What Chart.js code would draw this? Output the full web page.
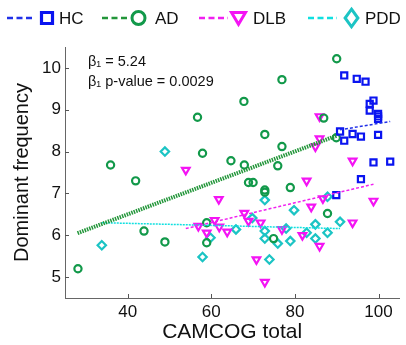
<!DOCTYPE html>
<html>
<head>
<meta charset="utf-8">
<script src="https://cdn.jsdelivr.net/npm/chart.js@4/dist/chart.umd.min.js"></script>
<style>
html,body{margin:0;padding:0;background:#fff;}
#wrap{width:406px;height:345px;position:relative;}
</style>
</head>
<body>
<div id="wrap"><canvas id="c" width="406" height="345"></canvas></div>
<script>
// ---- data ----
const hcX = [91.8,94.8,96.9,98.8,97.9,97.9,99.9,99.9,99.9,90.8,93.8,95.8,99.9,91.8,98.8,102.8,95.8,89.9];
const hcY = [9.82,9.74,9.67,9.22,9.14,8.98,8.90,8.84,8.78,8.48,8.42,8.36,8.40,8.26,7.74,7.76,7.34,6.96];

const adX = [90.0,76.9,67.8,86.9,72.8,89.9,76.9,64.7,67.9,75.9,68.9,70.0,72.8,72.8,78.9,87.8,74.9,35.9,41.9,57.9,56.7,43.9,48.9,58.9,58.9,28.1];
const adY = [10.22,9.72,9.20,8.80,8.41,8.33,8.12,7.78,7.68,7.66,7.26,7.26,7.08,7.03,7.14,6.52,5.92,7.68,7.30,7.96,8.82,6.10,5.84,6.30,5.82,5.20];

const dlbX = [85.9,85.9,84.9,93.8,82.8,86.7,83.9,98.8,67.9,68.9,71.8,93.8,63.8,76.9,81.8,85.9,70.8,72.8,61.8,53.9,56.9,60.8,61.9,58.9];
const dlbY = [8.84,8.31,8.12,7.78,7.30,6.88,6.68,6.82,6.53,6.34,6.30,6.30,6.08,6.14,6.00,5.74,5.42,4.88,6.86,7.56,6.22,6.36,6.20,6.06];

const pddX = [87.8,72.8,79.8,69.8,90.8,84.9,65.9,77.9,72.8,82.8,87.8,72.8,75.9,78.9,84.9,73.9,33.8,57.9,59.8,48.9];
const pddY = [6.92,6.84,6.60,6.41,6.32,6.26,6.14,6.16,6.10,6.06,6.06,5.92,5.80,5.86,5.92,5.42,5.76,5.48,5.94,8.00];

// fitted lines (endpoints)
const hcFitX = [90.8,102.8],  hcFitY = [8.52,8.72];
const adFitX = [28.0,90.0],   adFitY = [6.05,8.38];
const dlbFitX = [53.9,98.8],  dlbFitY = [6.16,7.22];
const pddFitX = [33.8,90.8],  pddFitY = [6.30,6.16];

const xTicks = [40,60,80,100];
const yTicks = [5,6,7,8,9,10];
const groups = ['HC','AD','DLB','PDD'];
const annot = ['β\u2081 = 5.24','β\u2081 p-value = 0.0029'];

// ---- styles ----
const C_HC='#0a14f0', C_AD='#12994a', C_DLB='#f414f4', C_PDD='#1cc4c4';
const L_HC='#2030e8', L_AD='#23963a', L_DLB='#f020f0', L_PDD='#10e0e0';

const pts = (xs,ys)=>xs.map((x,i)=>({x:x,y:ys[i]}));

const FONT='"Liberation Sans", Arial, sans-serif';

const inTicks = {
  id:'inTicks',
  afterDraw(chart){
    const ctx=chart.ctx, a=chart.chartArea, xs=chart.scales.x, ys=chart.scales.y;
    ctx.save();
    ctx.strokeStyle='#555'; ctx.lineWidth=1;
    xTicks.forEach(v=>{const p=Math.round(xs.getPixelForValue(v))+0.5;ctx.beginPath();ctx.moveTo(p,a.bottom);ctx.lineTo(p,a.bottom-4);ctx.stroke();});
    yTicks.forEach(v=>{const p=Math.round(ys.getPixelForValue(v))+0.5;ctx.beginPath();ctx.moveTo(a.left,p);ctx.lineTo(a.left+4,p);ctx.stroke();});
    // annotation
    ctx.fillStyle='#111'; ctx.font='14.5px '+FONT; ctx.textBaseline='alphabetic'; ctx.textAlign='left';
    ctx.fillText(annot[0],88,66);
    ctx.fillText(annot[1],88,86);
    ctx.restore();
  }
};

function marker(ctx,type,cx,cy,s,color,lw){
  ctx.save();
  ctx.strokeStyle=color; ctx.lineWidth=lw; ctx.beginPath();
  if(type==='rect'){ctx.rect(cx-s/2,cy-s/2,s,s);}
  else if(type==='circle'){ctx.arc(cx,cy,s/2,0,Math.PI*2);}
  else if(type==='tri'){ctx.moveTo(cx-s/2,cy-s*0.4);ctx.lineTo(cx+s/2,cy-s*0.4);ctx.lineTo(cx,cy+s*0.45);ctx.closePath();}
  else if(type==='dia'){ctx.moveTo(cx,cy-s*0.55);ctx.lineTo(cx+s*0.4,cy);ctx.lineTo(cx,cy+s*0.55);ctx.lineTo(cx-s*0.4,cy);ctx.closePath();}
  ctx.stroke(); ctx.restore();
}

const legendPlug = {
  id:'legendPlug',
  afterDraw(chart){
    const ctx=chart.ctx; const y=18;
    const items=[
      {l:L_HC,c:C_HC,t:'rect',x1:7,x2:34,m:47,s:11,lw:3.2,tx:59},
      {l:L_AD,c:C_AD,t:'circle',x1:102,x2:129,m:138.5,s:13,lw:3,tx:155},
      {l:L_DLB,c:C_DLB,t:'tri',x1:199,x2:228,m:238.5,s:14,lw:3,tx:253},
      {l:L_PDD,c:C_PDD,t:'dia',x1:308,x2:337,m:351.5,s:16,lw:3,tx:365}
    ];
    items.forEach((it,i)=>{
      ctx.save();
      ctx.strokeStyle=it.l; ctx.lineWidth=2.5; ctx.setLineDash([6,3.5]);
      ctx.beginPath(); ctx.moveTo(it.x1,y); ctx.lineTo(it.x2,y); ctx.stroke();
      ctx.restore();
      marker(ctx,it.t,it.m,y,it.s,it.c,it.lw);
      ctx.save(); ctx.fillStyle='#111'; ctx.font='17px '+FONT; ctx.textBaseline='middle';
      ctx.fillText(groups[i],it.tx,y+1); ctx.restore();
    });
  }
};

const scat = (label,xs,ys,color,style,r,rot)=>({
  type:'scatter',label:label,data:pts(xs,ys),showLine:false,
  pointStyle:style,pointRadius:r,pointHoverRadius:r,pointRotation:rot||0,
  borderColor:color,backgroundColor:'rgba(0,0,0,0)',pointBorderWidth:2.2,order:2
});
const fit = (label,xs,ys,color,w,dash)=>({
  type:'line',label:label,data:pts(xs,ys),borderColor:color,borderWidth:w,borderDash:dash,
  pointRadius:0,fill:false,order:1
});

new Chart(document.getElementById('c'),{
  data:{datasets:[
    fit('HC fit',hcFitX,hcFitY,L_HC,1.5,[3,2]),
    fit('AD fit',adFitX,adFitY,L_AD,4,[1.5,1]),
    fit('DLB fit',dlbFitX,dlbFitY,L_DLB,1.5,[3,2]),
    fit('PDD fit',pddFitX,pddFitY,L_PDD,1.5,[2,1]),
    scat('HC',hcX,hcY,C_HC,'rect',4.3),
    scat('AD',adX,adY,C_AD,'circle',3.6),
    scat('DLB',dlbX,dlbY,C_DLB,'triangle',4.4,180),
    scat('PDD',pddX,pddY,C_PDD,'rectRot',4.2)
  ]},
  options:{
    responsive:false,animation:false,
    layout:{padding:{top:47,right:1,left:0,bottom:0}},
    plugins:{legend:{display:false},tooltip:{enabled:false}},
    scales:{
      x:{type:'linear',min:25,max:105,
        afterBuildTicks:s=>{s.ticks=xTicks.map(v=>({value:v}));},
        afterFit:s=>{s.height=47;},
        grid:{display:true,drawOnChartArea:false,drawTicks:false},
        border:{display:true,color:'#666',width:1},
        ticks:{color:'#111',font:{family:FONT,size:17},padding:4,maxRotation:0},
        title:{display:true,text:'CAMCOG total',color:'#111',font:{family:FONT,size:21},padding:{top:-1,bottom:0}}
      },
      y:{type:'linear',min:4.5,max:10.5,
        afterBuildTicks:s=>{s.ticks=yTicks.map(v=>({value:v}));},
        afterFit:s=>{s.width=65;},
        grid:{display:true,drawOnChartArea:false,drawTicks:false},
        border:{display:true,color:'#666',width:1},
        ticks:{color:'#111',font:{family:FONT,size:17},padding:4},
        title:{display:true,text:'Dominant frequency',color:'#111',font:{family:FONT,size:20},padding:{top:10,bottom:0}}
      }
    }
  },
  plugins:[inTicks,legendPlug]
});
</script>
</body>
</html>
